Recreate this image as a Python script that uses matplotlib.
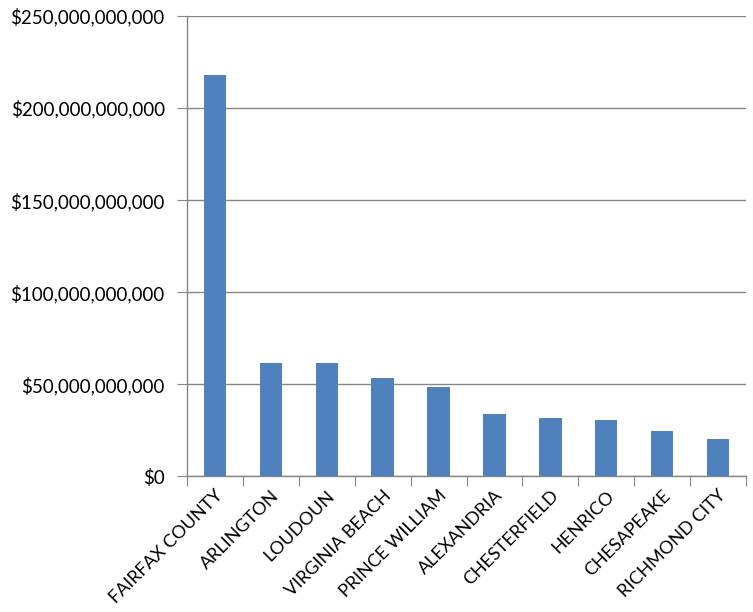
import matplotlib
matplotlib.use("Agg")
import matplotlib.pyplot as plt
from matplotlib.ticker import FuncFormatter, MultipleLocator

categories = ["FAIRFAX COUNTY", "ARLINGTON", "LOUDOUN", "VIRGINIA BEACH", "PRINCE WILLIAM",
              "ALEXANDRIA", "CHESTERFIELD", "HENRICO", "CHESAPEAKE", "RICHMOND CITY"]
values = [217.9e9, 61.6e9, 61.6e9, 53.4e9, 48.5e9, 33.9e9, 31.7e9, 30.6e9, 24.6e9, 20.3e9]

plt.rcParams['font.family'] = ['Lato', 'DejaVu Sans']

fig = plt.figure(figsize=(7.53, 6.12), dpi=100)
ax = fig.add_axes([187/753, 1-476.3/612, (746-187)/753, (476.3-16)/612])

x = list(range(len(categories)))
ax.bar(x, values, width=0.4, color='#4F81BD', zorder=3)

ax.set_xlim(-0.5, len(categories)-0.5)
ax.set_ylim(0, 250e9)
ax.yaxis.set_major_locator(MultipleLocator(50e9))
ax.yaxis.set_major_formatter(FuncFormatter(lambda v, p: "${:,.0f}".format(v)))
ax.grid(axis='y', color='#868686', linewidth=1.0, zorder=0)

for s in ['top', 'right']:
    ax.spines[s].set_visible(False)
for s in ['left', 'bottom']:
    ax.spines[s].set_color('#868686')
    ax.spines[s].set_linewidth(1.0)

ax.set_xticks([i - 0.5 for i in range(len(categories) + 1)], minor=False)
ax.set_xticklabels([])
ax.set_xticks(x, minor=True)
ax.set_xticklabels(categories, minor=True, rotation=45, ha='right', rotation_mode='anchor', fontsize=13)
ax.tick_params(axis='x', which='minor', length=0, pad=8)
ax.tick_params(axis='x', which='major', length=7, color='#868686')
ax.tick_params(axis='y', length=7, color='#868686', labelsize=13.5, pad=9)

fig.savefig("out.png", dpi=100)
